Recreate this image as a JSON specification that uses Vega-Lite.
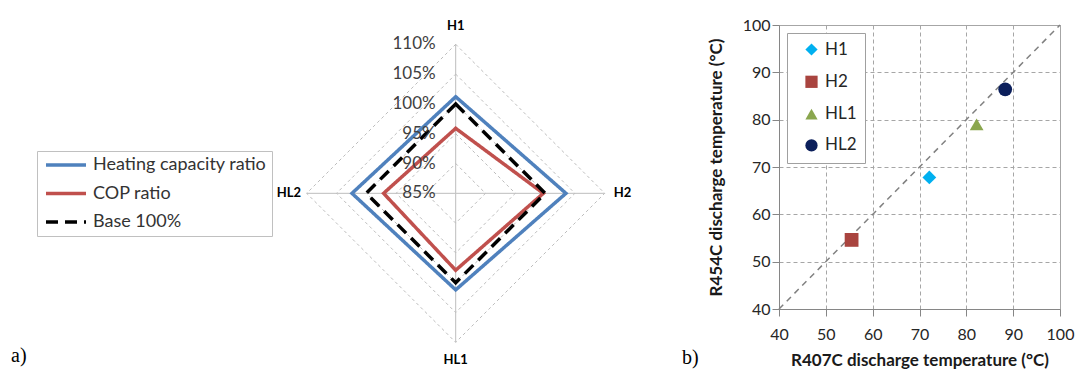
{
  "$schema": "https://vega.github.io/schema/vega-lite/v6.json",
  "background": "white",
  "padding": {"left": 0, "top": 16, "right": 0, "bottom": 0},
  "bounds": "flush",
  "spacing": 79,
  "resolve": {
    "scale": {"color": "independent", "shape": "independent", "strokeDash": "independent", "x": "independent", "y": "independent"},
    "legend": {"color": "independent", "shape": "independent", "strokeDash": "independent"}
  },
  "datasets": {
    "radar": [
      {"series": "Heating capacity ratio", "axis": "H1", "value": 101.2},
      {"series": "Heating capacity ratio", "axis": "H2", "value": 103.5},
      {"series": "Heating capacity ratio", "axis": "HL1", "value": 101.2},
      {"series": "Heating capacity ratio", "axis": "HL2", "value": 102.4},
      {"series": "COP ratio", "axis": "H1", "value": 95.9},
      {"series": "COP ratio", "axis": "H2", "value": 99.7},
      {"series": "COP ratio", "axis": "HL1", "value": 97.9},
      {"series": "COP ratio", "axis": "HL2", "value": 97.1},
      {"series": "Base 100%", "axis": "H1", "value": 100},
      {"series": "Base 100%", "axis": "H2", "value": 100},
      {"series": "Base 100%", "axis": "HL1", "value": 100},
      {"series": "Base 100%", "axis": "HL2", "value": 100}
    ],
    "grid": [
      {"level": 90, "axis": "H1"}, {"level": 90, "axis": "H2"}, {"level": 90, "axis": "HL1"}, {"level": 90, "axis": "HL2"},
      {"level": 95, "axis": "H1"}, {"level": 95, "axis": "H2"}, {"level": 95, "axis": "HL1"}, {"level": 95, "axis": "HL2"},
      {"level": 100, "axis": "H1"}, {"level": 100, "axis": "H2"}, {"level": 100, "axis": "HL1"}, {"level": 100, "axis": "HL2"},
      {"level": 105, "axis": "H1"}, {"level": 105, "axis": "H2"}, {"level": 105, "axis": "HL1"}, {"level": 105, "axis": "HL2"},
      {"level": 110, "axis": "H1"}, {"level": 110, "axis": "H2"}, {"level": 110, "axis": "HL1"}, {"level": 110, "axis": "HL2"}
    ],
    "spokes": [
      {"axis": "H1", "level": 85}, {"axis": "H1", "level": 110},
      {"axis": "H2", "level": 85}, {"axis": "H2", "level": 110},
      {"axis": "HL1", "level": 85}, {"axis": "HL1", "level": 110},
      {"axis": "HL2", "level": 85}, {"axis": "HL2", "level": 110}
    ],
    "ticks": [
      {"level": 85, "label": "85%"}, {"level": 90, "label": "90%"}, {"level": 95, "label": "95%"},
      {"level": 100, "label": "100%"}, {"level": 105, "label": "105%"}, {"level": 110, "label": "110%"}
    ],
    "cats": [
      {"axis": "H1"}, {"axis": "H2"}, {"axis": "HL1"}, {"axis": "HL2"}
    ],
    "diag": [
      {"r407c": 40, "r454c": 40}, {"r407c": 100, "r454c": 100}
    ],
    "temps": [
      {"case": "H1", "r407c": 72.1, "r454c": 67.8},
      {"case": "H2", "r407c": 55.5, "r454c": 54.6},
      {"case": "HL1", "r407c": 82.2, "r454c": 79.0},
      {"case": "HL2", "r407c": 88.3, "r454c": 86.4}
    ]
  },
  "hconcat": [
    {
      "width": 700,
      "height": 320,
      "view": {"stroke": null},
      "title": {"text": "a)", "orient": "bottom", "anchor": "start", "frame": "group", "dx": 11, "dy": -21, "offset": 0, "font": "Liberation Serif", "fontSize": 20, "fontWeight": "normal", "color": "#000000"},
      "layer": [
        {
          "data": {"name": "grid"},
          "transform": [
            {"calculate": "datum.level - 85", "as": "r"},
            {"calculate": "datum.axis === 'H2' ? datum.r : (datum.axis === 'HL2' ? -datum.r : 0)", "as": "px"},
            {"calculate": "datum.axis === 'H1' ? datum.r : (datum.axis === 'HL1' ? -datum.r : 0)", "as": "py"}
          ],
          "mark": {"type": "line", "interpolate": "linear-closed", "stroke": "#bdbdbd", "strokeWidth": 1, "strokeDash": [3, 3]},
          "encoding": {
            "x": {"field": "px", "type": "quantitative", "axis": null, "scale": {"domain": [-76.46, 40.99], "nice": false, "zero": false}},
            "y": {"field": "py", "type": "quantitative", "axis": null, "scale": {"domain": [-25.45, 28.24], "nice": false, "zero": false}},
            "detail": {"field": "level", "type": "nominal"},
            "order": {"value": null}
          }
        },
        {
          "data": {"name": "spokes"},
          "transform": [
            {"calculate": "datum.level - 85", "as": "r"},
            {"calculate": "datum.axis === 'H2' ? datum.r : (datum.axis === 'HL2' ? -datum.r : 0)", "as": "px"},
            {"calculate": "datum.axis === 'H1' ? datum.r : (datum.axis === 'HL1' ? -datum.r : 0)", "as": "py"}
          ],
          "mark": {"type": "line", "stroke": "#bdbdbd", "strokeWidth": 1},
          "encoding": {
            "x": {"field": "px", "type": "quantitative", "axis": null, "scale": {"domain": [-76.46, 40.99], "nice": false, "zero": false}},
            "y": {"field": "py", "type": "quantitative", "axis": null, "scale": {"domain": [-25.45, 28.24], "nice": false, "zero": false}},
            "detail": {"field": "axis", "type": "nominal"},
            "order": {"value": null}
          }
        },
        {
          "data": {"name": "radar"},
          "transform": [
            {"calculate": "datum.value - 85", "as": "r"},
            {"calculate": "datum.axis === 'H2' ? datum.r : (datum.axis === 'HL2' ? -datum.r : 0)", "as": "px"},
            {"calculate": "datum.axis === 'H1' ? datum.r : (datum.axis === 'HL1' ? -datum.r : 0)", "as": "py"}
          ],
          "mark": {"type": "line", "interpolate": "linear-closed", "strokeWidth": 3.5, "strokeJoin": "miter"},
          "encoding": {
            "x": {"field": "px", "type": "quantitative", "axis": null, "scale": {"domain": [-76.46, 40.99], "nice": false, "zero": false}},
            "y": {"field": "py", "type": "quantitative", "axis": null, "scale": {"domain": [-25.45, 28.24], "nice": false, "zero": false}},
            "color": {
              "field": "series", "type": "nominal",
              "scale": {"domain": ["Heating capacity ratio", "COP ratio", "Base 100%"], "range": ["#4F81BD", "#C0504D", "#000000"]},
              "legend": {"title": null, "orient": "none", "legendX": 37, "legendY": 126, "symbolType": "M-4,0H4", "symbolSize": 100, "symbolOffset": 15, "symbolStrokeWidth": 3.5, "labelFont": "Lato", "labelFontSize": 18, "labelColor": "#333333", "labelOffset": 18, "rowPadding": 10.5, "padding": 5, "strokeColor": "#c0c0c0", "fillColor": "white", "labelLimit": 400}
            },
            "strokeDash": {
              "field": "series", "type": "nominal",
              "scale": {"domain": ["Heating capacity ratio", "COP ratio", "Base 100%"], "range": [[1, 0], [1, 0], [12, 7]]},
              "legend": {"title": null, "orient": "none", "legendX": 37, "legendY": 126, "symbolType": "M-4,0H4", "symbolSize": 100, "symbolOffset": 15, "symbolStrokeWidth": 3.5, "labelFont": "Lato", "labelFontSize": 18, "labelColor": "#333333", "labelOffset": 18, "rowPadding": 10.5, "padding": 5, "strokeColor": "#c0c0c0", "fillColor": "white", "labelLimit": 400}
            },
            "order": {"value": null}
          }
        },
        {
          "data": {"name": "ticks"},
          "transform": [
            {"calculate": "datum.level - 85", "as": "py"},
            {"calculate": "0", "as": "px"}
          ],
          "mark": {"type": "text", "align": "right", "baseline": "middle", "dx": -20, "font": "Lato", "fontSize": 17, "color": "#404040"},
          "encoding": {
            "x": {"field": "px", "type": "quantitative", "axis": null, "scale": {"domain": [-76.46, 40.99], "nice": false, "zero": false}},
            "y": {"field": "py", "type": "quantitative", "axis": null, "scale": {"domain": [-25.45, 28.24], "nice": false, "zero": false}},
            "text": {"field": "label"}
          }
        },
        {
          "data": {"name": "cats"},
          "transform": [
            {"calculate": "28", "as": "r"},
            {"calculate": "datum.axis === 'H2' ? datum.r : (datum.axis === 'HL2' ? -datum.r : 0)", "as": "px"},
            {"calculate": "datum.axis === 'H1' ? datum.r : (datum.axis === 'HL1' ? -datum.r : 0)", "as": "py"}
          ],
          "mark": {"type": "text", "align": "center", "baseline": "middle", "font": "Lato", "fontSize": 13, "fontWeight": "bold", "color": "#000000"},
          "encoding": {
            "x": {"field": "px", "type": "quantitative", "axis": null, "scale": {"domain": [-76.46, 40.99], "nice": false, "zero": false}},
            "y": {"field": "py", "type": "quantitative", "axis": null, "scale": {"domain": [-25.45, 28.24], "nice": false, "zero": false}},
            "text": {"field": "axis"}
          }
        }
      ]
    },
    {
      "width": 281,
      "height": 284,
      "view": {"stroke": "#a6a6a6", "strokeWidth": 1},
      "title": {"text": "b)", "orient": "bottom", "anchor": "start", "frame": "group", "dx": -97, "dy": -20, "offset": 0, "font": "Liberation Serif", "fontSize": 20, "fontWeight": "normal", "color": "#000000"},
      "layer": [
        {
          "data": {"name": "diag"},
          "mark": {"type": "line", "stroke": "#808080", "strokeWidth": 1.5, "strokeDash": [6, 5]},
          "encoding": {
            "x": {"field": "r407c", "type": "quantitative", "scale": {"domain": [40, 100], "nice": false, "zero": false},
              "axis": {"title": "R407C discharge temperature (°C)", "values": [40, 50, 60, 70, 80, 90, 100], "labelFlush": false, "grid": true, "gridDash": [4, 3], "gridColor": "#a6a6a6", "domainColor": "#868686", "tickColor": "#868686", "tickSize": 7, "labelPadding": 10, "labelFont": "Lato", "labelFontSize": 16, "labelColor": "#262626", "titleFont": "Lato", "titleFontSize": 17, "titleFontWeight": "bold", "titleColor": "#1a1a1a", "titlePadding": 10}},
            "y": {"field": "r454c", "type": "quantitative", "scale": {"domain": [40, 100], "nice": false, "zero": false},
              "axis": {"title": "R454C discharge temperature (°C)", "values": [40, 50, 60, 70, 80, 90, 100], "labelFlush": false, "grid": true, "gridDash": [4, 3], "gridColor": "#a6a6a6", "domainColor": "#868686", "tickColor": "#868686", "tickSize": 7, "labelPadding": 2, "labelFont": "Lato", "labelFontSize": 16, "labelColor": "#262626", "titleFont": "Lato", "titleFontSize": 17, "titleFontWeight": "bold", "titleColor": "#1a1a1a", "titlePadding": 17}}
          }
        },
        {
          "data": {"name": "temps"},
          "mark": {"type": "point", "filled": true, "opacity": 1, "size": 190},
          "encoding": {
            "x": {"field": "r407c", "type": "quantitative"},
            "y": {"field": "r454c", "type": "quantitative"},
            "color": {"field": "case", "type": "nominal", "scale": {"domain": ["H1", "H2", "HL1", "HL2"], "range": ["#00B0F0", "#A9443F", "#8AA64E", "#0B1F5B"]},
              "legend": {"title": null, "orient": "none", "legendX": 8, "legendY": 8, "symbolSize": 150, "labelFont": "Lato", "labelFontSize": 17, "labelColor": "#262626", "labelOffset": 5, "rowPadding": 13.3, "padding": 8, "symbolOffset": 8, "strokeColor": "#a0a0a0", "fillColor": "white", "symbolOpacity": 1}},
            "shape": {"field": "case", "type": "nominal", "scale": {"domain": ["H1", "H2", "HL1", "HL2"], "range": ["diamond", "square", "triangle-up", "circle"]},
              "legend": {"title": null, "orient": "none", "legendX": 8, "legendY": 8, "symbolSize": 150, "labelFont": "Lato", "labelFontSize": 17, "labelColor": "#262626", "labelOffset": 5, "rowPadding": 13.3, "padding": 8, "symbolOffset": 8, "strokeColor": "#a0a0a0", "fillColor": "white", "symbolOpacity": 1}}
          }
        }
      ]
    }
  ]
}
